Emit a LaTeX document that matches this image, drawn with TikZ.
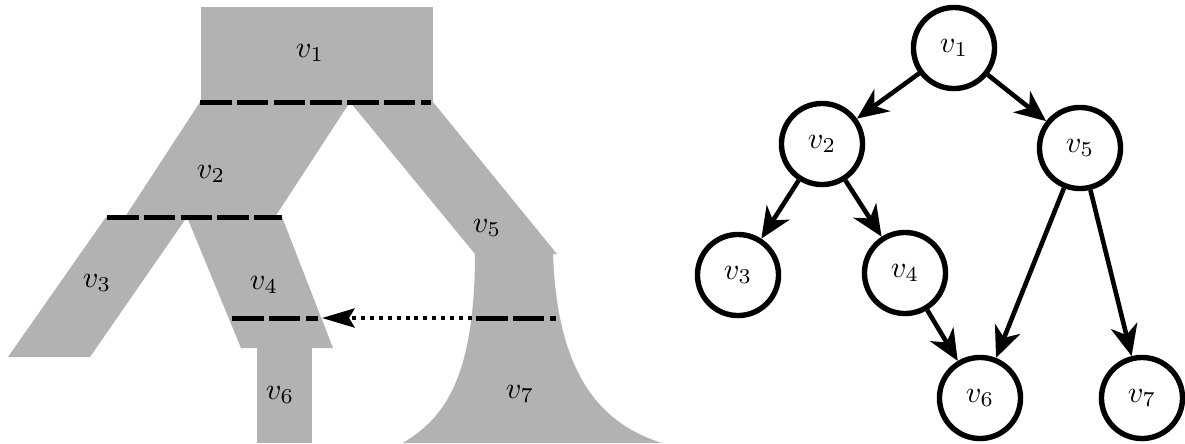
\documentclass[tikz,border=0pt]{standalone}
\usepackage{graphicx}
\usetikzlibrary{arrows.meta}
\definecolor{band}{gray}{0.70}
\newcommand\vlab[1]{\scalebox{1.12}{$v_{#1}$}}
\tikzset{
  bandfill/.style={fill=band, draw=none},
  cutline/.style={line width=1.85pt, dash pattern=on 11.7pt off 1.9pt, line cap=butt},
  lbl/.style={inner sep=0pt},
  vnode/.style={circle, draw, line width=2pt, minimum size=30pt, inner sep=0pt},
  treearrow/.style={line width=1.7pt, -{Stealth[length=11.5pt, width=10pt, inset=3.5pt]}},
  dotarrow/.style={line width=1.6pt, dash pattern=on 1.5pt off 1.8pt, -{Stealth[length=12pt, width=7pt, inset=2pt]}}
}
\begin{document}
\begin{tikzpicture}[x=0.37pt, y=-0.37pt]
\useasboundingbox (0,0) rectangle (1185,443);
% left: bands
\fill[bandfill] (201,7) rectangle (433,102);
\fill[bandfill] (200,102) -- (350,102) -- (275,217) -- (125,217) -- cycle;
\fill[bandfill] (106,217) -- (187,217) -- (90,357) -- (8,357) -- cycle;
\fill[bandfill] (187,217) -- (282,217) -- (333,348) -- (241,348) -- cycle;
\fill[bandfill] (257,348) rectangle (312,443);
\fill[bandfill] (350,102) -- (433,102) -- (557,254) -- (475,254) -- cycle;
\fill[bandfill] (475,253) -- (553,253) .. controls (557,380) and (605,425) .. (662,443)
   -- (403,443) .. controls (440,420) and (475,385) .. (475,253) -- cycle;
% cut lines
\draw[cutline] (200,102) -- (431,102);
\draw[cutline] (107,217) -- (282,217);
\draw[cutline] (232,318) -- (318,318);
\draw[cutline] (476,318) -- (556,318);
% labels
\node[lbl] (l1) at (310,53) {\vlab{1}};
\node[lbl] (l2) at (211,174) {\vlab{2}};
\node[lbl] (l3) at (97,283) {\vlab{3}};
\node[lbl] (l4) at (264,285) {\vlab{4}};
\node[lbl] (l5) at (487,228) {\vlab{5}};
\node[lbl] (l6) at (280,395) {\vlab{6}};
\node[lbl] (l7) at (520,394) {\vlab{7}};
% dotted arrow
\coordinate (s7) at (472,318);
\coordinate (t4) at (322,318);
\draw[dotarrow] (s7) -- (t4);
% right: tree
\node[vnode] (v1) at (954,48) {\vlab{1}};
\node[vnode] (v2) at (822,144) {\vlab{2}};
\node[vnode] (v5) at (1080,148) {\vlab{5}};
\node[vnode] (v3) at (738,275) {\vlab{3}};
\node[vnode] (v4) at (905,273) {\vlab{4}};
\node[vnode] (v6) at (980,398) {\vlab{6}};
\node[vnode] (v7) at (1142,398) {\vlab{7}};
\draw[treearrow] (v1) -- (v2);
\draw[treearrow] (v1) -- (v5);
\draw[treearrow] (v2) -- (v3);
\draw[treearrow] (v2) -- (v4);
\draw[treearrow] (v4) -- (v6);
\draw[treearrow] (v5) -- (v6);
\draw[treearrow] (v5) -- (v7);
\end{tikzpicture}
\end{document}
